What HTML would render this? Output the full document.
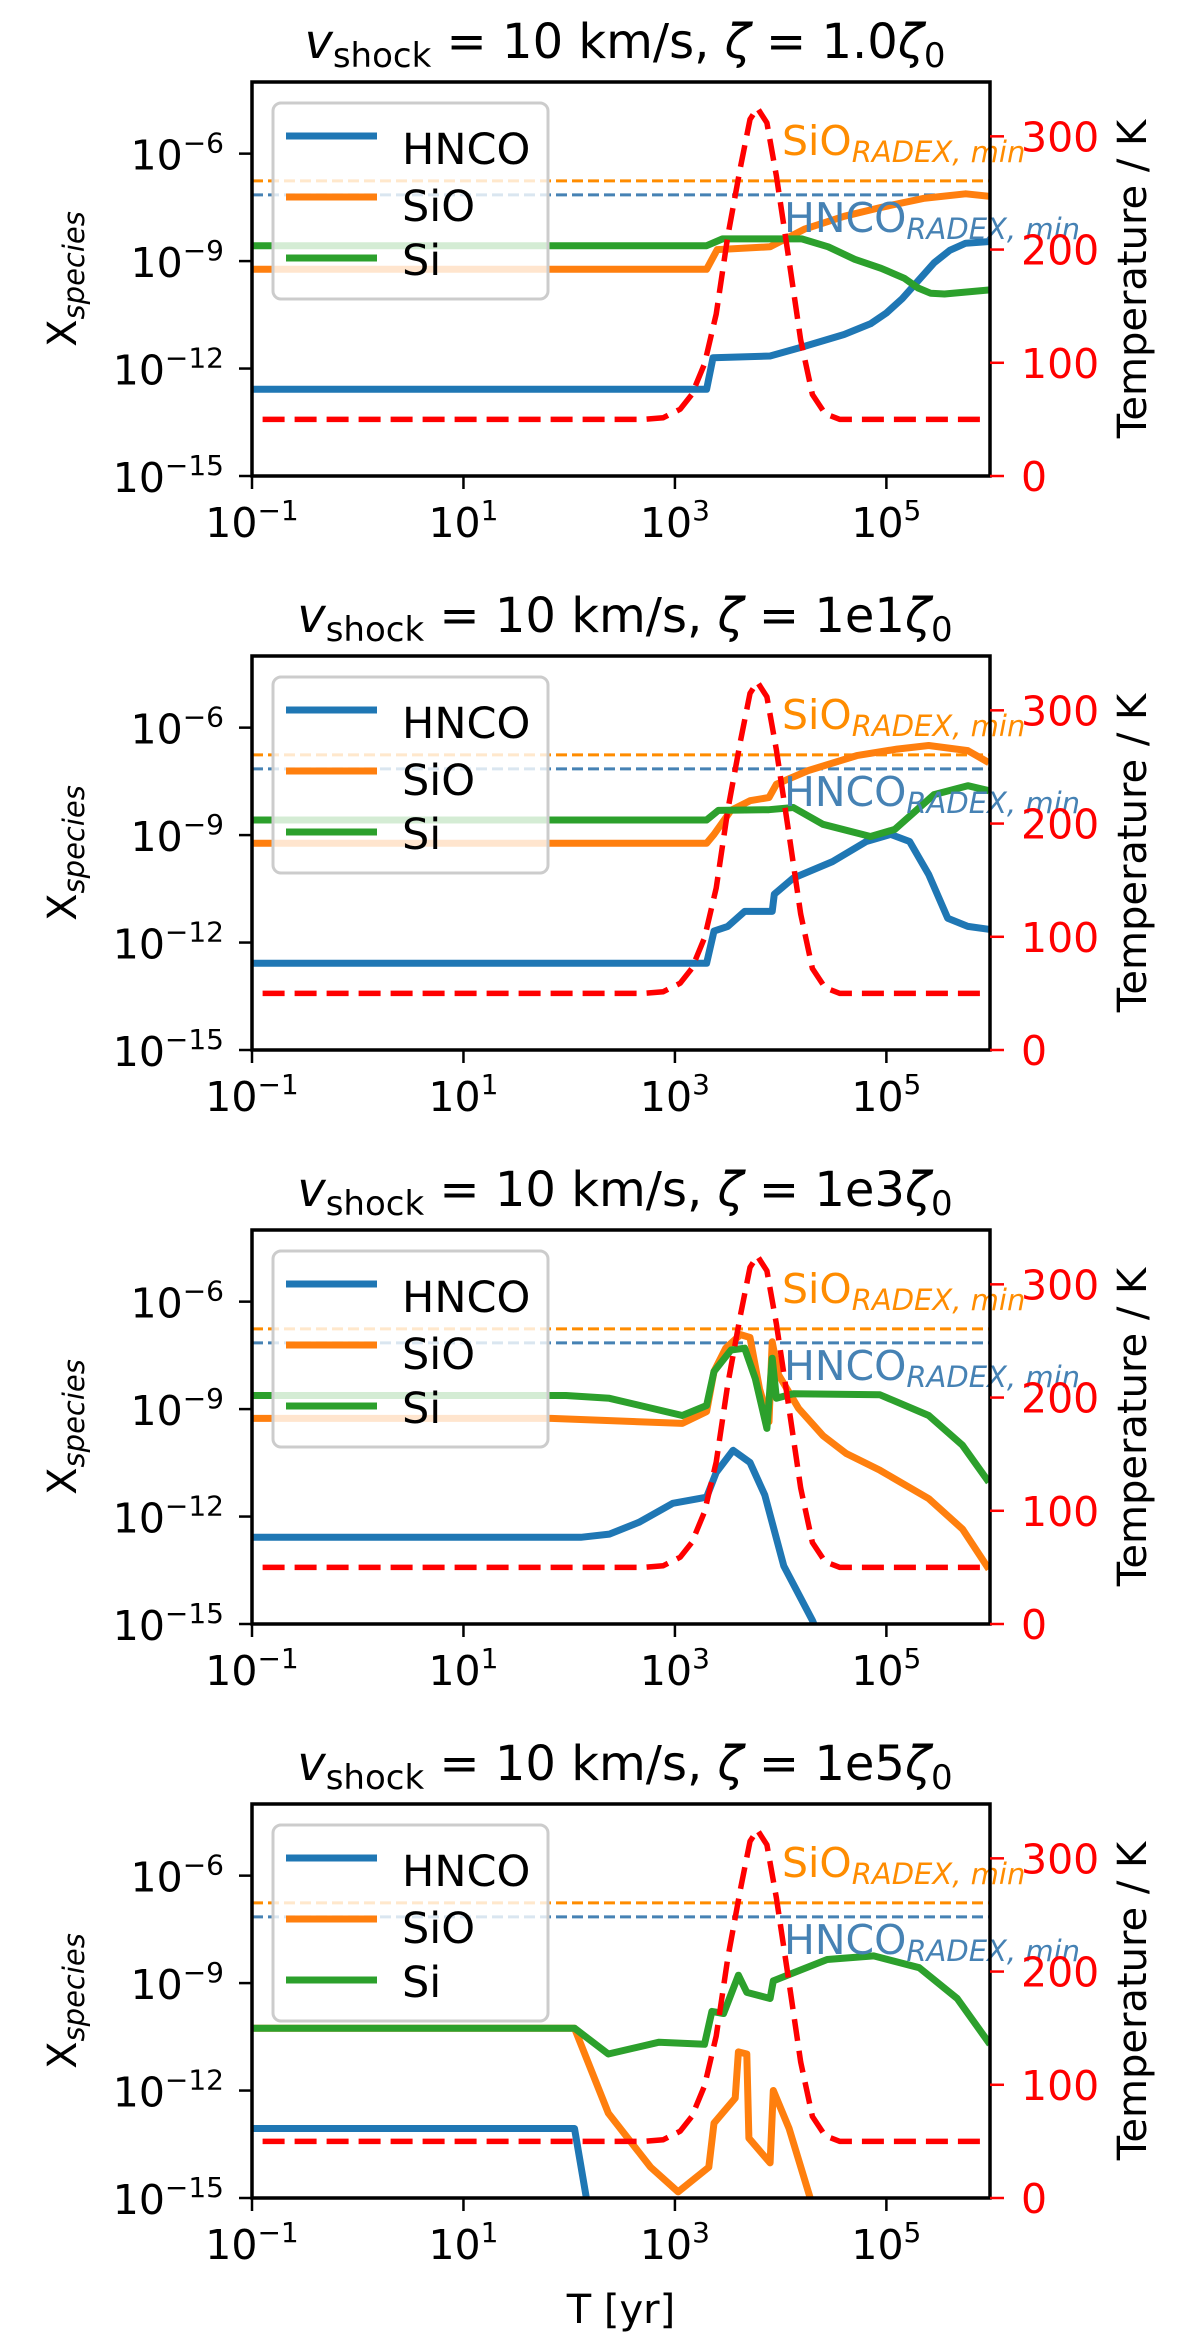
<!DOCTYPE html>
<html><head><meta charset="utf-8"><style>
html,body{margin:0;padding:0;background:#fff;}
svg{display:block;font-family:"DejaVu Sans","Liberation Sans",sans-serif;}
</style></head><body>
<svg id="fig" xmlns="http://www.w3.org/2000/svg" width="1200" height="2348" viewBox="0 0 1200 2348"></svg>
<script>
// ---- data (log10 time [yr], log10 abundance) ----
const panelTitles = ["1.0", "1e1", "1e3", "1e5"];
const speciesNames = ["HNCO", "SiO", "Si"];
const speciesColors = ["#1f77b4", "#ff7f0e", "#2ca02c"];
const thresholdSiO = -6.76;
const thresholdHNCO = -7.15;
const xTickExps = [-1, 1, 3, 5];
const yTickExps = [-6, -9, -12, -15];
const tTicks = [0, 100, 200, 300];
const tempLogT = [-0.9, 2.7, 2.89, 3.05, 3.16, 3.28, 3.39, 3.5, 3.62, 3.71, 3.78, 3.87, 3.96, 4.08, 4.19, 4.3, 4.42, 4.56, 5.98];
const tempK = [50, 50, 51.5, 59, 72, 99, 143, 212, 273, 315, 325, 312, 265, 190, 120, 72, 55, 50, 50];

const p1HNCO = [[-1,-12.58],[3.3,-12.58],[3.36,-11.7],[3.9,-11.65],[4.2,-11.4],[4.6,-11.05],[4.85,-10.75],[5.0,-10.45],[5.15,-10.05],[5.3,-9.55],[5.45,-9.05],[5.6,-8.7],[5.75,-8.5],[6,-8.45]];
const p1SiO = [[-1,-9.23],[3.3,-9.23],[3.4,-8.68],[3.9,-8.6],[4.23,-8.1],[4.6,-7.75],[4.95,-7.5],[5.35,-7.25],[5.75,-7.12],[6,-7.2]];
const p1Si = [[-1,-8.57],[3.3,-8.57],[3.45,-8.38],[4.2,-8.38],[4.45,-8.6],[4.7,-8.95],[4.95,-9.2],[5.17,-9.48],[5.3,-9.75],[5.42,-9.9],[5.55,-9.92],[6,-9.8]];

const p2HNCO = [[-1,-12.58],[3.3,-12.58],[3.37,-11.68],[3.5,-11.55],[3.66,-11.13],[3.92,-11.13],[3.94,-10.65],[4.12,-10.2],[4.49,-9.74],[4.81,-9.18],[5.04,-8.98],[5.22,-9.18],[5.4,-10.1],[5.58,-11.32],[5.77,-11.55],[5.97,-11.63]];
const p2SiO = [[-1,-9.23],[3.3,-9.23],[3.37,-8.98],[3.53,-8.31],[3.71,-8.04],[3.89,-7.95],[3.96,-7.58],[4.26,-7.2],[4.72,-6.78],[5.1,-6.6],[5.4,-6.5],[5.77,-6.64],[5.97,-6.98]];
const p2Si = [[-1,-8.58],[3.3,-8.58],[3.41,-8.31],[3.89,-8.29],[4.12,-8.23],[4.4,-8.7],[4.85,-9.04],[5.08,-8.84],[5.45,-7.87],[5.77,-7.62],[5.97,-7.76]];

const p3HNCO = [[-1,-12.58],[2.11,-12.58],[2.38,-12.49],[2.66,-12.16],[2.98,-11.63],[3.3,-11.46],[3.39,-10.77],[3.55,-10.15],[3.71,-10.49],[3.85,-11.4],[4.03,-13.38],[4.3,-14.9],[4.4,-15.6]];
const p3SiO = [[-1,-9.26],[1.83,-9.26],[3.07,-9.4],[3.3,-9.07],[3.37,-7.95],[3.48,-7.3],[3.62,-6.92],[3.71,-7.0],[3.8,-8.43],[3.89,-9.35],[3.92,-7.12],[3.98,-8.04],[4.17,-8.98],[4.4,-9.74],[4.62,-10.24],[4.94,-10.71],[5.4,-11.5],[5.72,-12.35],[5.97,-13.47]];
const p3Si = [[-1,-8.62],[1.97,-8.62],[2.38,-8.7],[3.07,-9.18],[3.3,-8.9],[3.37,-7.95],[3.53,-7.35],[3.66,-7.3],[3.76,-8.15],[3.87,-9.54],[3.92,-7.58],[3.96,-8.7],[4.12,-8.57],[4.94,-8.6],[5.4,-9.18],[5.72,-10.01],[5.97,-11.04]];

const p4HNCO = [[-1,-13.06],[2.05,-13.06],[2.18,-15.3]];
const p4SiO = [[-1,-10.26],[2.05,-10.26],[2.37,-12.63],[2.77,-14.14],[3.03,-14.83],[3.32,-14.14],[3.37,-12.91],[3.57,-12.21],[3.6,-10.92],[3.68,-10.98],[3.7,-13.33],[3.9,-14.02],[3.93,-12.0],[4.08,-13.06],[4.29,-15.1]];
const p4Si = [[-1,-10.26],[2.05,-10.26],[2.37,-10.98],[2.85,-10.65],[3.28,-10.71],[3.35,-9.79],[3.46,-9.85],[3.6,-8.78],[3.68,-9.26],[3.9,-9.43],[3.93,-8.94],[4.15,-8.68],[4.44,-8.34],[4.88,-8.24],[5.31,-8.57],[5.67,-9.43],[5.98,-10.71]];

const panelData = [[p1HNCO,p1SiO,p1Si],[p2HNCO,p2SiO,p2Si],[p3HNCO,p3SiO,p3Si],[p4HNCO,p4SiO,p4Si]];

// ---- layout ----
const NS = "http://www.w3.org/2000/svg";
const svg = document.getElementById('fig');
const L = 252, R = 990, H = 394, X0 = -1, X1 = 5.98, Y0 = -15, Y1 = -4.0, TMAX = 348;
function mk(tag, attrs, parent){const e=document.createElementNS(NS,tag);for(const k in attrs)e.setAttribute(k,attrs[k]);(parent||svg).appendChild(e);return e;}
function xs(v){return L + (v - X0) / (X1 - X0) * (R - L);}

panelData.forEach((series, p) => {
  const top = 82 + p * 574, bot = top + H;
  const ys = v => bot - (v - Y0) / (Y1 - Y0) * H;
  const ts = v => bot - v / TMAX * H;
  const g = mk('g', {});
  
  
  const cp = mk('clipPath', {id: 'clip' + p}, g);
  mk('rect', {x: L, y: top, width: R - L, height: H}, cp);

  const title = mk('text', {x: 625, y: top - 24, 'text-anchor': 'middle', 'font-size': 48, fill: '#000'}, g);
  
  
  title.innerHTML = '<tspan font-style="italic">v</tspan><tspan font-size="34" dy="9">shock</tspan><tspan dy="-9"> = 10 km/s, </tspan><tspan font-style="italic">ζ</tspan><tspan> = ' + panelTitles[p] + '</tspan><tspan font-style="italic">ζ</tspan><tspan font-size="34" dy="9">0</tspan>';

  const plot = mk('g', {'clip-path': 'url(#clip' + p + ')'}, g);
  const thr = [[thresholdSiO, '#ff8c00', 'sio-threshold-line'], [thresholdHNCO, '#4682b4', 'hnco-threshold-line']];
  thr.forEach(t => {
    const ln = mk('line', {x1: L, x2: R, y1: ys(t[0]), y2: ys(t[0]), stroke: t[1], 'stroke-width': 3, 'stroke-dasharray': '11 5'}, plot);
    
    
  });
  series.forEach((arr, s) => {
    const pts = arr.map(d => xs(d[0]).toFixed(1) + ',' + ys(d[1]).toFixed(1)).join(' ');
    const pl = mk('polyline', {points: pts, fill: 'none', stroke: speciesColors[s], 'stroke-width': 7, 'stroke-linejoin': 'round'}, plot);
    
    
  });
  const l1 = mk('text', {x: 782, y: top + 73, fill: '#ff8c00', 'font-size': 41}, g);
  
  
  l1.innerHTML = 'SiO<tspan font-size="29" font-style="italic" dy="7">RADEX, min</tspan>';
  const l2 = mk('text', {x: 784, y: top + 150, fill: '#4682b4', 'font-size': 41}, g);
  
  
  l2.innerHTML = 'HNCO<tspan font-size="29" font-style="italic" dy="7">RADEX, min</tspan>';

  const lg = mk('g', {}, g);
  
  
  mk('rect', {x: 273, y: top + 21, width: 275, height: 196, rx: 8, fill: 'rgba(255,255,255,0.8)', stroke: '#cccccc', 'stroke-width': 3}, lg);
  const lyOff = [54, 115, 176], tyOff = [82, 139, 193];
  speciesNames.forEach((n, s) => {
    const e = mk('g', {}, lg);
    
    
    mk('line', {x1: 286, x2: 377, y1: top + lyOff[s], y2: top + lyOff[s], stroke: speciesColors[s], 'stroke-width': 7}, e);
    const t = mk('text', {x: 402, y: top + tyOff[s], 'font-size': 43, fill: '#000'}, e);
    t.textContent = n;
  });

  const tp = tempLogT.map((v, i) => xs(v).toFixed(1) + ',' + ts(tempK[i]).toFixed(1)).join(' ');
  const tl = mk('polyline', {points: tp, fill: 'none', stroke: '#ff0000', 'stroke-width': 5.5, 'stroke-dasharray': '22 10', 'stroke-linejoin': 'round'}, plot);
  
  

  const fr = mk('rect', {x: L, y: top, width: R - L, height: H, fill: 'none', stroke: '#000', 'stroke-width': 3.5}, g);
  
  

  yTickExps.forEach(e => {
    const y = ys(e);
    mk('line', {x1: L - 13, x2: L, y1: y, y2: y, stroke: '#000', 'stroke-width': 2.5}, g);
    const t = mk('text', {x: 224, y: y + 16, 'text-anchor': 'end', 'font-size': 41, fill: '#000'}, g);
    
    
    t.innerHTML = '10<tspan font-size="28" dy="-17">−' + (-e) + '</tspan>';
  });
  xTickExps.forEach(e => {
    const x = xs(e);
    mk('line', {x1: x, x2: x, y1: bot, y2: bot + 13, stroke: '#000', 'stroke-width': 2.5}, g);
    const t = mk('text', {x: x, y: bot + 61, 'text-anchor': 'middle', 'font-size': 41, fill: '#000'}, g);
    
    
    t.innerHTML = '10<tspan font-size="28" dy="-17">' + (e < 0 ? '−' + (-e) : e) + '</tspan>';
  });
  tTicks.forEach(v => {
    const y = ts(v);
    mk('line', {x1: R, x2: R + 14, y1: y, y2: y, stroke: '#ff0000', 'stroke-width': 2.5}, g);
    const t = mk('text', {x: 1021, y: y + 15, 'font-size': 41, fill: '#ff0000'}, g);
    
    
    t.textContent = v;
  });
  const cy = top + H / 2;
  const yl = mk('text', {x: 0, y: 0, transform: 'translate(76,' + cy + ') rotate(-90)', 'text-anchor': 'middle', 'font-size': 40, fill: '#000'}, g);
  
  
  yl.innerHTML = 'X<tspan font-size="29" font-style="italic" dy="8">species</tspan>';
  const rl = mk('text', {x: 0, y: 0, transform: 'translate(1146,' + cy + ') rotate(-90)', 'text-anchor': 'middle', 'font-size': 40, fill: '#000'}, g);
  
  
  rl.textContent = 'Temperature / K';
});
const xl = mk('text', {x: 621, y: 2323, 'text-anchor': 'middle', 'font-size': 40, fill: '#000'});


xl.textContent = 'T [yr]';
</script>
</body></html>
